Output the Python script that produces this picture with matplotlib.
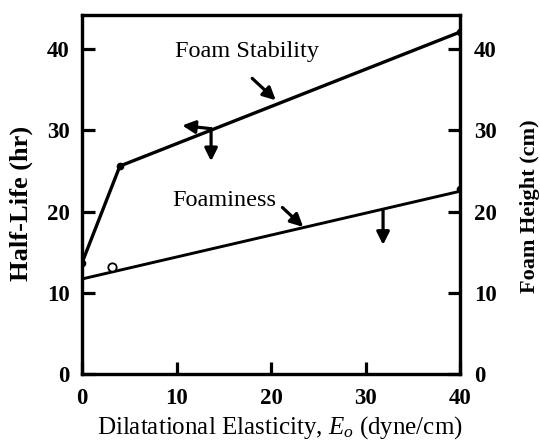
import numpy as np
import matplotlib.pyplot as plt

# data
stab_x = [0, 4.0, 40]
stab_y = [13.7, 25.6, 42.1]
foam_x = [0, 40]
foam_y = [11.7, 22.5]
foam_pts_x = [40]
foam_pts_y = [22.8]
open_x = [3.2]
open_y = [13.2]
xticks = [0, 10, 20, 30, 40]
yticks = [0, 10, 20, 30, 40]

plt.rcParams['font.family'] = 'Liberation Serif'
plt.rcParams['mathtext.fontset'] = 'custom'
plt.rcParams['mathtext.it'] = 'Liberation Serif:italic'

fig = plt.figure(figsize=(5.4, 4.41), dpi=100)
ax = fig.add_axes([0.152, 0.152, 0.700, 0.814])
ax2 = ax.twinx()

ax.plot(stab_x, stab_y, color='black', lw=2.4, solid_capstyle='round')
ax.plot(stab_x, stab_y, 'o', color='black', ms=4.5)
ax.plot(foam_x, foam_y, color='black', lw=2.1)
ax.plot(foam_pts_x, foam_pts_y, 'o', color='black', ms=4.5)
ax.plot(open_x, open_y, 'o', mfc='white', mec='black', mew=1.3, ms=6)

ax.set_xlim(0, 40)
ax.set_ylim(0, 44.2)
ax2.set_ylim(0, 44.2)
ax.set_xticks(xticks)
ax.set_yticks(yticks)
ax2.set_yticks(yticks)

for a in (ax, ax2):
    for s in a.spines.values():
        s.set_linewidth(2.3)
ax.tick_params(axis='both', direction='in', length=9, width=2.3, labelsize=16.5, pad=9)
ax.tick_params(axis='x', pad=10)
ax2.tick_params(axis='y', direction='in', length=9, width=2.3, labelsize=16.5, pad=10)
for lab in ax.get_xticklabels() + ax.get_yticklabels() + ax2.get_yticklabels():
    lab.set_fontweight('bold')

ax.set_xlabel(r'Dilatational Elasticity, $E_o$ (dyne/cm)', fontsize=18)
ax.xaxis.set_label_coords(0.522, -0.112)
ax.set_ylabel('Half-Life (hr)', fontsize=19, fontweight='bold')
ax.yaxis.set_label_coords(-0.13, 0.475)
ax2.set_ylabel('Foam Height (cm)', fontsize=16, fontweight='bold')
ax2.yaxis.set_label_coords(1.159, 0.467)

ax.text(17.4, 39.7, 'Foam Stability', fontsize=17.5, ha='center', va='center')
ax.text(15.0, 21.3, 'Foaminess', fontsize=17.5, ha='center', va='center')

arr = dict(arrowstyle='-|>', color='black', lw=2.3, mutation_scale=19, shrinkA=0, shrinkB=0)
ax.annotate('', xy=(20.5, 33.7), xytext=(18.0, 36.4), arrowprops=arr)
ax.annotate('', xy=(10.6, 30.6), xytext=(13.65, 30.2), arrowprops=arr)
ax.annotate('', xy=(13.65, 26.2), xytext=(13.65, 30.2), arrowprops=arr)
ax.annotate('', xy=(23.4, 18.1), xytext=(21.2, 20.5), arrowprops=arr)
ax.annotate('', xy=(31.85, 15.9), xytext=(31.85, 20.2), arrowprops=arr)

fig.savefig('out.png', dpi=100)
